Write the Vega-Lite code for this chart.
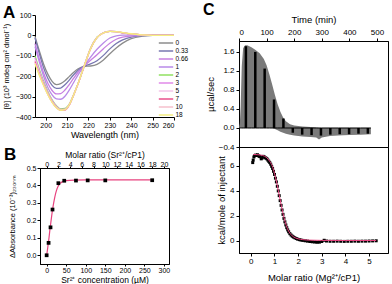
{
"$schema":"https://vega.github.io/schema/vega-lite/v6.json",
"background":"white",
"padding":{"left":2,"top":1,"right":0,"bottom":0},
"config":{"font":"Liberation Sans","view":{"stroke":null},"axis":{"labelFont":"Liberation Sans","titleFont":"Liberation Sans","domainColor":"#000","tickColor":"#000","labelColor":"#000","titleColor":"#000","grid":false,"titleFontWeight":"normal","tickSize":3,"labelPadding":1,"labelOverlap":false,"labelBound":false}},
"datasets":{
"cd":[
{"r":"0","wl":195,"v":-5},{"r":"0","wl":197,"v":-75},{"r":"0","wl":199,"v":-140},{"r":"0","wl":201,"v":-190},{"r":"0","wl":203,"v":-225},{"r":"0","wl":205,"v":-241},{"r":"0","wl":207,"v":-236},{"r":"0","wl":209,"v":-222},{"r":"0","wl":211,"v":-202},{"r":"0","wl":213,"v":-182},{"r":"0","wl":215,"v":-165},{"r":"0","wl":218,"v":-152},{"r":"0","wl":221,"v":-150},{"r":"0","wl":224,"v":-142},{"r":"0","wl":227,"v":-120},{"r":"0","wl":230,"v":-90},{"r":"0","wl":233,"v":-62},{"r":"0","wl":236,"v":-38},{"r":"0","wl":240,"v":-16},{"r":"0","wl":245,"v":-4},{"r":"0","wl":250,"v":0},{"r":"0","wl":260,"v":0},
{"r":"0.33","wl":195,"v":-12},{"r":"0.33","wl":197,"v":-88},{"r":"0.33","wl":199,"v":-158},{"r":"0.33","wl":201,"v":-210},{"r":"0.33","wl":203,"v":-245},{"r":"0.33","wl":205,"v":-260},{"r":"0.33","wl":207,"v":-258},{"r":"0.33","wl":209,"v":-242},{"r":"0.33","wl":211,"v":-219},{"r":"0.33","wl":213,"v":-194},{"r":"0.33","wl":215,"v":-172},{"r":"0.33","wl":218,"v":-151},{"r":"0.33","wl":221,"v":-140},{"r":"0.33","wl":224,"v":-124},{"r":"0.33","wl":227,"v":-98},{"r":"0.33","wl":230,"v":-66},{"r":"0.33","wl":233,"v":-40},{"r":"0.33","wl":236,"v":-22},{"r":"0.33","wl":240,"v":-8},{"r":"0.33","wl":245,"v":-2},{"r":"0.33","wl":250,"v":0},{"r":"0.33","wl":260,"v":0},
{"r":"0.66","wl":195,"v":-40},{"r":"0.66","wl":197,"v":-115},{"r":"0.66","wl":199,"v":-183},{"r":"0.66","wl":201,"v":-235},{"r":"0.66","wl":203,"v":-270},{"r":"0.66","wl":205,"v":-287},{"r":"0.66","wl":207,"v":-285},{"r":"0.66","wl":209,"v":-268},{"r":"0.66","wl":211,"v":-241},{"r":"0.66","wl":213,"v":-211},{"r":"0.66","wl":215,"v":-182},{"r":"0.66","wl":218,"v":-150},{"r":"0.66","wl":221,"v":-122},{"r":"0.66","wl":224,"v":-95},{"r":"0.66","wl":227,"v":-65},{"r":"0.66","wl":230,"v":-38},{"r":"0.66","wl":233,"v":-19},{"r":"0.66","wl":236,"v":-9},{"r":"0.66","wl":240,"v":-3},{"r":"0.66","wl":245,"v":0},{"r":"0.66","wl":250,"v":0},{"r":"0.66","wl":260,"v":0},
{"r":"1","wl":195,"v":-55},{"r":"1","wl":197,"v":-130},{"r":"1","wl":199,"v":-200},{"r":"1","wl":201,"v":-255},{"r":"1","wl":203,"v":-292},{"r":"1","wl":205,"v":-311},{"r":"1","wl":207,"v":-313},{"r":"1","wl":209,"v":-298},{"r":"1","wl":211,"v":-268},{"r":"1","wl":213,"v":-232},{"r":"1","wl":215,"v":-196},{"r":"1","wl":218,"v":-150},{"r":"1","wl":221,"v":-106},{"r":"1","wl":224,"v":-68},{"r":"1","wl":227,"v":-37},{"r":"1","wl":230,"v":-13},{"r":"1","wl":233,"v":-2},{"r":"1","wl":236,"v":1},{"r":"1","wl":240,"v":1},{"r":"1","wl":245,"v":0},{"r":"1","wl":250,"v":0},{"r":"1","wl":260,"v":0},
{"r":"2","wl":195,"v":-100},{"r":"2","wl":197,"v":-165},{"r":"2","wl":199,"v":-225},{"r":"2","wl":201,"v":-275},{"r":"2","wl":203,"v":-316},{"r":"2","wl":205,"v":-345},{"r":"2","wl":207,"v":-360},{"r":"2","wl":209,"v":-358},{"r":"2","wl":211,"v":-337},{"r":"2","wl":213,"v":-292},{"r":"2","wl":215,"v":-240},{"r":"2","wl":218,"v":-150},{"r":"2","wl":221,"v":-63},{"r":"2","wl":224,"v":-9},{"r":"2","wl":227,"v":13},{"r":"2","wl":230,"v":20},{"r":"2","wl":233,"v":18},{"r":"2","wl":236,"v":13},{"r":"2","wl":240,"v":7},{"r":"2","wl":245,"v":2},{"r":"2","wl":250,"v":0},{"r":"2","wl":260,"v":0},
{"r":"3","wl":195,"v":-110},{"r":"3","wl":197,"v":-172},{"r":"3","wl":199,"v":-231},{"r":"3","wl":201,"v":-280},{"r":"3","wl":203,"v":-320},{"r":"3","wl":205,"v":-348},{"r":"3","wl":207,"v":-363},{"r":"3","wl":209,"v":-361},{"r":"3","wl":211,"v":-339},{"r":"3","wl":213,"v":-293},{"r":"3","wl":215,"v":-240},{"r":"3","wl":218,"v":-150},{"r":"3","wl":221,"v":-64},{"r":"3","wl":224,"v":-10},{"r":"3","wl":227,"v":13},{"r":"3","wl":230,"v":20},{"r":"3","wl":233,"v":18},{"r":"3","wl":236,"v":13},{"r":"3","wl":240,"v":7},{"r":"3","wl":245,"v":2},{"r":"3","wl":250,"v":0},{"r":"3","wl":260,"v":0},
{"r":"5","wl":195,"v":-120},{"r":"5","wl":197,"v":-180},{"r":"5","wl":199,"v":-236},{"r":"5","wl":201,"v":-284},{"r":"5","wl":203,"v":-323},{"r":"5","wl":205,"v":-351},{"r":"5","wl":207,"v":-365},{"r":"5","wl":209,"v":-363},{"r":"5","wl":211,"v":-340},{"r":"5","wl":213,"v":-293},{"r":"5","wl":215,"v":-240},{"r":"5","wl":218,"v":-150},{"r":"5","wl":221,"v":-64},{"r":"5","wl":224,"v":-10},{"r":"5","wl":227,"v":13},{"r":"5","wl":230,"v":20},{"r":"5","wl":233,"v":18},{"r":"5","wl":236,"v":13},{"r":"5","wl":240,"v":7},{"r":"5","wl":245,"v":2},{"r":"5","wl":250,"v":0},{"r":"5","wl":260,"v":0},
{"r":"7","wl":195,"v":-128},{"r":"7","wl":197,"v":-188},{"r":"7","wl":199,"v":-241},{"r":"7","wl":201,"v":-288},{"r":"7","wl":203,"v":-326},{"r":"7","wl":205,"v":-354},{"r":"7","wl":207,"v":-368},{"r":"7","wl":209,"v":-366},{"r":"7","wl":211,"v":-342},{"r":"7","wl":213,"v":-294},{"r":"7","wl":215,"v":-241},{"r":"7","wl":218,"v":-151},{"r":"7","wl":221,"v":-65},{"r":"7","wl":224,"v":-11},{"r":"7","wl":227,"v":12},{"r":"7","wl":230,"v":20},{"r":"7","wl":233,"v":18},{"r":"7","wl":236,"v":13},{"r":"7","wl":240,"v":7},{"r":"7","wl":245,"v":2},{"r":"7","wl":250,"v":0},{"r":"7","wl":260,"v":0},
{"r":"10","wl":195,"v":-135},{"r":"10","wl":197,"v":-191},{"r":"10","wl":199,"v":-243},{"r":"10","wl":201,"v":-289},{"r":"10","wl":203,"v":-327},{"r":"10","wl":205,"v":-354},{"r":"10","wl":207,"v":-367},{"r":"10","wl":209,"v":-365},{"r":"10","wl":211,"v":-341},{"r":"10","wl":213,"v":-294},{"r":"10","wl":215,"v":-241},{"r":"10","wl":218,"v":-151},{"r":"10","wl":221,"v":-65},{"r":"10","wl":224,"v":-11},{"r":"10","wl":227,"v":12},{"r":"10","wl":230,"v":20},{"r":"10","wl":233,"v":19},{"r":"10","wl":236,"v":14},{"r":"10","wl":240,"v":7},{"r":"10","wl":245,"v":2},{"r":"10","wl":250,"v":0},{"r":"10","wl":260,"v":0},
{"r":"18","wl":195,"v":-140},{"r":"18","wl":197,"v":-195},{"r":"18","wl":199,"v":-245},{"r":"18","wl":201,"v":-290},{"r":"18","wl":203,"v":-328},{"r":"18","wl":205,"v":-355},{"r":"18","wl":207,"v":-367},{"r":"18","wl":209,"v":-364},{"r":"18","wl":211,"v":-340},{"r":"18","wl":213,"v":-293},{"r":"18","wl":215,"v":-240},{"r":"18","wl":218,"v":-150},{"r":"18","wl":221,"v":-65},{"r":"18","wl":224,"v":-11},{"r":"18","wl":227,"v":12},{"r":"18","wl":230,"v":20},{"r":"18","wl":233,"v":19},{"r":"18","wl":236,"v":14},{"r":"18","wl":240,"v":8},{"r":"18","wl":245,"v":3},{"r":"18","wl":250,"v":0},{"r":"18","wl":260,"v":0}
],
"bpts":[{"ratio":0,"a":0.0},{"ratio":0.33,"a":0.071},{"ratio":0.66,"a":0.16},{"ratio":1,"a":0.262},{"ratio":2,"a":0.413},{"ratio":3,"a":0.427},{"ratio":5,"a":0.428},{"ratio":7,"a":0.429},{"ratio":10,"a":0.429},{"ratio":18,"a":0.43}],
"bfit":[{"c":0,"a":0.0},{"c":2,"a":0.03},{"c":4,"a":0.065},{"c":6,"a":0.1},{"c":8,"a":0.14},{"c":10,"a":0.175},{"c":12,"a":0.21},{"c":15,"a":0.26},{"c":18,"a":0.3},{"c":21,"a":0.335},{"c":25,"a":0.37},{"c":30,"a":0.398},{"c":35,"a":0.413},{"c":40,"a":0.421},{"c":50,"a":0.428},{"c":70,"a":0.431},{"c":100,"a":0.432},{"c":150,"a":0.432},{"c":200,"a":0.432},{"c":270,"a":0.432}],
"env":[{"t":0,"hi":0,"lo":0},{"t":3,"hi":0.1,"lo":0},{"t":6,"hi":0.45,"lo":0},{"t":10,"hi":1.3,"lo":0},{"t":15,"hi":1.68,"lo":0},{"t":22,"hi":1.74,"lo":0},{"t":30,"hi":1.74,"lo":0},{"t":45,"hi":1.7,"lo":0},{"t":60,"hi":1.64,"lo":0},{"t":75,"hi":1.57,"lo":0},{"t":90,"hi":1.45,"lo":0},{"t":100,"hi":1.32,"lo":0},{"t":110,"hi":1.13,"lo":0},{"t":120,"hi":0.92,"lo":0},{"t":130,"hi":0.7,"lo":-0.02},{"t":140,"hi":0.5,"lo":-0.05},{"t":150,"hi":0.34,"lo":-0.08},{"t":160,"hi":0.22,"lo":-0.1},{"t":170,"hi":0.14,"lo":-0.12},{"t":185,"hi":0.08,"lo":-0.14},{"t":200,"hi":0.05,"lo":-0.16},{"t":230,"hi":0.03,"lo":-0.18},{"t":260,"hi":0.02,"lo":-0.19},{"t":280,"hi":0.01,"lo":-0.2},{"t":290,"hi":0,"lo":-0.24},{"t":300,"hi":0,"lo":-0.2},{"t":330,"hi":0,"lo":-0.17},{"t":360,"hi":0,"lo":-0.16},{"t":400,"hi":0,"lo":-0.15},{"t":440,"hi":0,"lo":-0.14},{"t":478,"hi":0,"lo":-0.13}],
"spk":[{"t":25,"h":1.72},{"t":59,"h":1.6},{"t":93,"h":1.25},{"t":127,"h":0.6},{"t":161,"h":0.2},{"t":195,"h":-0.1},{"t":229,"h":-0.14},{"t":263,"h":-0.15},{"t":297,"h":-0.16},{"t":331,"h":-0.14},{"t":365,"h":-0.13},{"t":399,"h":-0.13},{"t":433,"h":-0.12},{"t":467,"h":-0.12}],
"itc":[{"m":0.08,"k":6.25},{"m":0.1,"k":6.45},{"m":0.13,"k":6.7},{"m":0.16,"k":6.8},{"m":0.2,"k":6.85},{"m":0.24,"k":6.82},{"m":0.28,"k":6.88},{"m":0.32,"k":6.8},{"m":0.36,"k":6.75},{"m":0.4,"k":6.72},{"m":0.44,"k":6.55},{"m":0.48,"k":6.62},{"m":0.52,"k":6.75},{"m":0.56,"k":6.72},{"m":0.6,"k":6.66},{"m":0.64,"k":6.6},{"m":0.68,"k":6.55},{"m":0.72,"k":6.45},{"m":0.76,"k":6.35},{"m":0.8,"k":6.25},{"m":0.84,"k":6.12},{"m":0.88,"k":5.95},{"m":0.92,"k":5.78},{"m":0.96,"k":5.55},{"m":1.0,"k":5.3},{"m":1.04,"k":5.0},{"m":1.08,"k":4.7},{"m":1.12,"k":4.35},{"m":1.16,"k":3.98},{"m":1.2,"k":3.6},{"m":1.24,"k":3.2},{"m":1.28,"k":2.82},{"m":1.32,"k":2.45},{"m":1.36,"k":2.1},{"m":1.4,"k":1.78},{"m":1.44,"k":1.5},{"m":1.48,"k":1.25},{"m":1.52,"k":1.03},{"m":1.56,"k":0.85},{"m":1.6,"k":0.7},{"m":1.65,"k":0.55},{"m":1.7,"k":0.44},{"m":1.75,"k":0.35},{"m":1.8,"k":0.28},{"m":1.86,"k":0.22},{"m":1.92,"k":0.16},{"m":1.98,"k":0.11},{"m":2.05,"k":0.07},{"m":2.12,"k":0.04},{"m":2.2,"k":0.01},{"m":2.3,"k":-0.02},{"m":2.4,"k":-0.05},{"m":2.5,"k":-0.08},{"m":2.6,"k":-0.1},{"m":2.7,"k":-0.12},{"m":2.8,"k":-0.14},{"m":2.9,"k":-0.13},{"m":3.0,"k":-0.08},{"m":3.1,"k":0.02},{"m":3.2,"k":-0.04},{"m":3.35,"k":-0.06},{"m":3.5,"k":-0.06},{"m":3.65,"k":-0.05},{"m":3.8,"k":-0.06},{"m":3.95,"k":-0.07},{"m":4.1,"k":-0.06},{"m":4.25,"k":-0.06},{"m":4.4,"k":-0.05},{"m":4.55,"k":-0.06},{"m":4.7,"k":-0.05},{"m":4.85,"k":-0.05},{"m":5.0,"k":-0.04},{"m":5.15,"k":-0.03},{"m":5.3,"k":-0.02}],
"itcfit":[{"m":0.1,"k":6.9},{"m":0.3,"k":6.88},{"m":0.5,"k":6.82},{"m":0.65,"k":6.68},{"m":0.8,"k":6.35},{"m":0.9,"k":6.0},{"m":1.0,"k":5.4},{"m":1.1,"k":4.6},{"m":1.2,"k":3.65},{"m":1.3,"k":2.7},{"m":1.4,"k":1.85},{"m":1.5,"k":1.2},{"m":1.6,"k":0.75},{"m":1.7,"k":0.47},{"m":1.8,"k":0.3},{"m":2.0,"k":0.14},{"m":2.2,"k":0.07},{"m":2.5,"k":0.03},{"m":3.0,"k":0.01},{"m":4.0,"k":0.0},{"m":5.3,"k":0.0}]
},
"hconcat":[
{"vconcat":[
 {"width":139,"height":102,
  "title":{"text":"A","anchor":"start","frame":"group","fontSize":17,"fontWeight":"bold","dx":-32,"offset":-11},
  "data":{"name":"cd"},
  "mark":{"type":"line","interpolate":"monotone","strokeWidth":1.3},
  "encoding":{
   "x":{"field":"wl","type":"quantitative","scale":{"domain":[195,260],"nice":false,"zero":false},"axis":{"values":[200,210,220,230,240,250,260],"title":"Wavelength (nm)","labelFontSize":7,"titleFontSize":9,"titlePadding":2,"labelOverlap":false}},
   "y":{"field":"v","type":"quantitative","scale":{"domain":[-400,100],"nice":false},"axis":{"values":[-400,-300,-200,-100,0,100],"title":"[θ] (10³ mdeg cm² dmol⁻¹)","labelFontSize":7,"titleFontSize":7.5,"titlePadding":5,"labelOverlap":false}},
   "color":{"field":"r","type":"nominal","scale":{"domain":["0","0.33","0.66","1","2","3","5","7","10","18"],"range":["#8c8c8c","#7777b0","#c77fe0","#b98ae8","#90e060","#e08ae8","#f3c6ea","#e8508c","#f6c0cc","#f5ee80"]},
     "legend":{"orient":"none","legendX":127,"legendY":24,"title":null,"symbolType":"M-2.4,0H2.4","symbolSize":36,"symbolStrokeWidth":1.5,"labelFontSize":6.5,"labelOffset":5.5,"rowPadding":-0.8,"padding":0}}
  }},
 {"width":129,"height":96,
  "title":{"text":"B","anchor":"start","frame":"group","fontSize":17,"fontWeight":"bold","dx":-36,"offset":-14},
  "view":{"stroke":"#000"},
  "layer":[
   {"data":{"name":"bfit"},"mark":{"type":"line","color":"#e8437f","strokeWidth":1.2,"interpolate":"monotone"},
    "encoding":{"x":{"field":"c","type":"quantitative","scale":{"domain":[-17,313],"nice":false,"zero":false},"axis":{"values":[0,50,100,150,200,250,300],"title":"Sr²⁺ concentration (µM)","labelFontSize":7,"titleFontSize":8.5,"titlePadding":2,"tickSize":2,"labelPadding":0,"labelOverlap":false}},
     "y":{"field":"a","type":"quantitative","scale":{"domain":[-0.05,0.5],"nice":false},"axis":{"values":[0,0.1,0.2,0.3,0.4,0.5],"format":".1f","title":"ΔAbsorbance (10⁻³)₂₃₀ₙₘ","labelFontSize":7,"titleFontSize":7.5,"titlePadding":10,"labelOverlap":false}}}},
   {"data":{"name":"bpts"},"mark":{"type":"square","color":"#000","size":14,"opacity":1},
    "encoding":{"x":{"field":"ratio","type":"quantitative","scale":{"domain":[-1.1333,20.8667],"nice":false,"zero":false},"axis":{"orient":"top","values":[0,2,4,6,8,10,12,14,16,18,20],"title":"Molar ratio (Sr²⁺/cP1)","labelFontSize":7,"titleFontSize":8.5,"titlePadding":1,"tickSize":2,"labelPadding":-1,"labelOverlap":false}},
     "y":{"field":"a","type":"quantitative","scale":{"domain":[-0.05,0.5],"nice":false},"axis":{"values":[0,0.1,0.2,0.3,0.4,0.5],"format":".1f","title":"ΔAbsorbance (10⁻³)₂₃₀ₙₘ","labelFontSize":7,"titleFontSize":7.5,"titlePadding":10,"labelOverlap":false}}}}
  ],
  "resolve":{"scale":{"x":"independent"},"axis":{"x":"independent"}}}
],"bounds":"flush","center":true,"spacing":51},
{"vconcat":[
 {"width":149,"height":26,"data":{"values":[{}]},"mark":{"type":"point","opacity":0}},
 {"width":149,"height":106,
  "title":{"text":"C","anchor":"start","frame":"group","fontSize":16,"fontWeight":"bold","dx":-36,"offset":-4},
  "view":{"stroke":"#000"},
  "encoding":{
   "x":{"field":"t","type":"quantitative","scale":{"domain":[0,540],"nice":false,"zero":false},"axis":{"orient":"top","values":[0,100,200,300,400,500],"title":"Time (min)","labelFontSize":8,"titleFontSize":9.5,"titlePadding":4,"labelPadding":2,"labelOverlap":false}}
  },
  "layer":[
   {"data":{"name":"env"},"mark":{"type":"area","color":"#7a7a7a","opacity":1},
    "encoding":{
     "y":{"field":"hi","type":"quantitative","scale":{"domain":[-0.4,1.83],"nice":false},"axis":{"values":[-0.4,0,0.4,0.8,1.2,1.6],"format":".1f","title":"µcal/sec","labelFontSize":8,"titleFontSize":9.5,"titlePadding":3,"labelPadding":2,"labelOverlap":false}},
     "y2":{"field":"lo"}}},
   {"data":{"name":"env"},"mark":{"type":"line","color":"#000","strokeWidth":1},
    "encoding":{"y":{"datum":0,"type":"quantitative","scale":{"domain":[-0.4,1.83],"nice":false},"axis":{"values":[-0.4,0,0.4,0.8,1.2,1.6],"format":".1f","title":"µcal/sec","labelFontSize":8,"titleFontSize":9.5,"titlePadding":3,"labelPadding":2,"labelOverlap":false}}}},
   {"data":{"name":"spk"},"mark":{"type":"rule","color":"#000","strokeWidth":2.5},
    "encoding":{"y":{"field":"h","type":"quantitative","scale":{"domain":[-0.4,1.83],"nice":false},"axis":{"values":[-0.4,0,0.4,0.8,1.2,1.6],"format":".1f","title":"µcal/sec","labelFontSize":8,"titleFontSize":9.5,"titlePadding":3,"labelPadding":2,"labelOverlap":false}},"y2":{"datum":0}}}
  ]},
 {"width":149,"height":106,
  "view":{"stroke":"#000"},
  "encoding":{
   "x":{"field":"m","type":"quantitative","scale":{"domain":[-0.5,5.8],"nice":false,"zero":false},"axis":{"values":[0,1,2,3,4,5],"title":"Molar ratio (Mg²⁺/cP1)","labelFontSize":8,"titleFontSize":9.5,"titlePadding":7,"labelPadding":1,"labelOverlap":false}},
   "y":{"field":"k","type":"quantitative","scale":{"domain":[-1,7.5],"nice":false},"axis":{"values":[0,2,4,6],"title":"kcal/mole of injectant","labelFontSize":8,"titleFontSize":9.5,"titlePadding":3,"labelPadding":2,"labelOverlap":false}}
  },
  "layer":[
   {"data":{"name":"itc"},"mark":{"type":"square","color":"#000","size":9,"opacity":1}},
   {"data":{"name":"itcfit"},"mark":{"type":"line","color":"#e8437f","strokeWidth":1,"interpolate":"monotone"}}
  ]}
],"bounds":"flush","spacing":0}
],
"spacing":25
}
